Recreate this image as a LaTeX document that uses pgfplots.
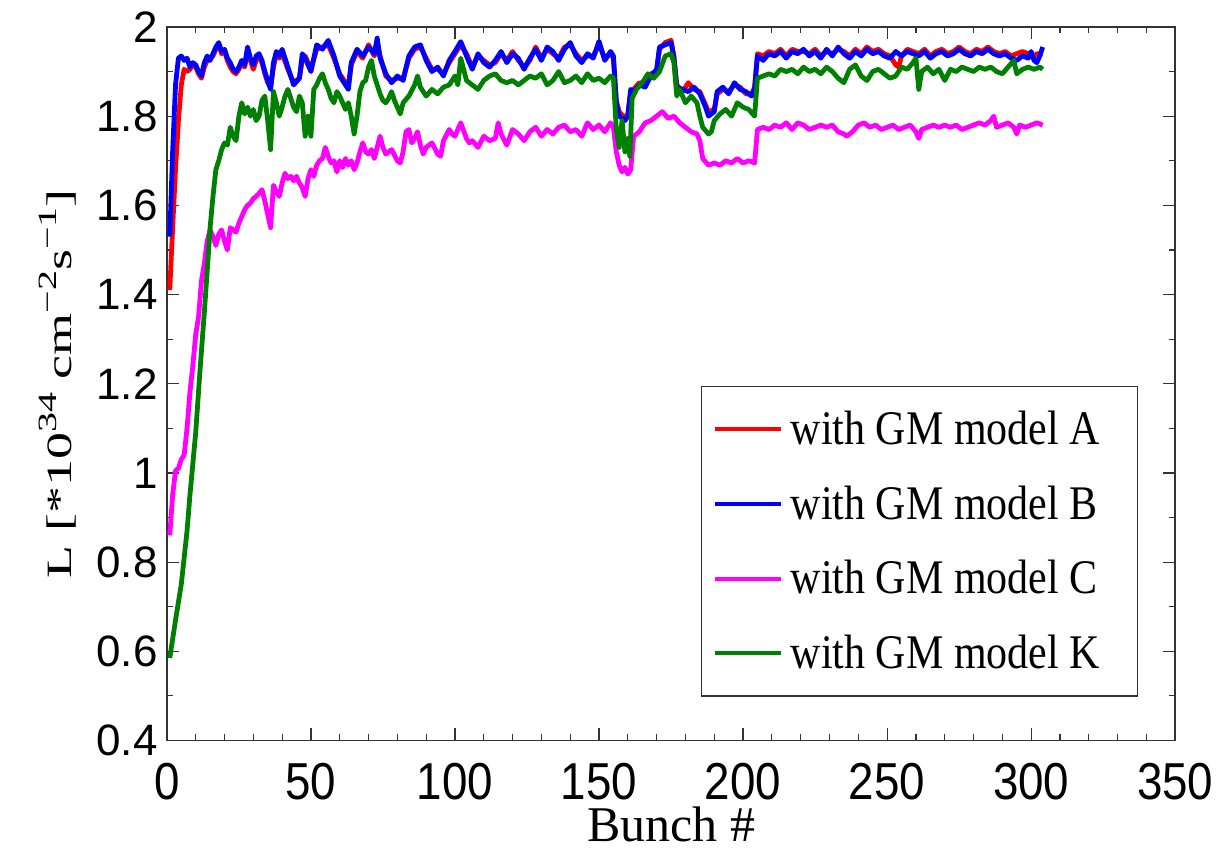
\documentclass[border=0pt]{standalone}
\usepackage{pgfplots}
\usepackage{pgfplotstable}
\pgfplotsset{compat=1.18}
\usepackage{fontspec}
\setmainfont{Liberation Serif}
\newfontfamily\arial{Liberation Sans}
\definecolor{mred}{RGB}{255,0,0}
\definecolor{mblue}{RGB}{0,0,255}
\definecolor{mmag}{RGB}{255,0,255}
\definecolor{mgreen}{RGB}{0,128,0}
\newcommand{\mysup}[1]{\raisebox{0.42em}{\fontsize{20}{22}\selectfont #1}}

\pgfplotstableread[row sep=\\]{
x y\\
1 1.41\\ 2 1.55\\ 3 1.68\\ 4 1.79\\ 5 1.87\\ 6 1.905\\ 7 1.90\\ 8 1.905\\ 9 1.915\\ 10 1.91\\
11 1.895\\ 12 1.885\\ 13 1.91\\ 14 1.925\\ 15 1.93\\ 16 1.935\\ 17 1.95\\ 18 1.96\\ 19 1.94\\ 20 1.945\\
21 1.925\\ 22 1.91\\ 23 1.90\\ 24 1.895\\ 25 1.905\\ 26 1.92\\ 27 1.91\\ 28 1.945\\ 29 1.925\\ 30 1.905\\
31 1.925\\ 32 1.935\\ 33 1.92\\ 34 1.895\\ 35 1.875\\ 36 1.865\\ 37 1.91\\ 38 1.94\\ 39 1.93\\ 40 1.94\\
42 1.905\\ 44 1.875\\ 46 1.885\\ 47 1.925\\ 48 1.935\\ 50 1.905\\ 52 1.95\\ 54 1.955\\ 56 1.96\\ 58 1.93\\
60 1.895\\ 62 1.875\\ 63 1.87\\ 64 1.915\\ 66 1.945\\ 68 1.93\\ 70 1.96\\ 72 1.935\\ 73 1.965\\ 74 1.935\\
76 1.89\\ 78 1.88\\ 80 1.885\\ 82 1.885\\ 84 1.93\\ 86 1.95\\ 88 1.955\\ 90 1.93\\ 92 1.905\\ 94 1.905\\
96 1.895\\ 98 1.92\\ 100 1.94\\ 102 1.96\\ 104 1.94\\ 106 1.91\\ 108 1.935\\ 110 1.925\\ 112 1.915\\ 114 1.92\\
116 1.94\\ 118 1.925\\ 120 1.945\\ 122 1.925\\ 124 1.91\\ 126 1.925\\ 128 1.955\\ 130 1.93\\ 132 1.95\\ 134 1.94\\
136 1.93\\ 138 1.955\\ 140 1.96\\ 142 1.94\\ 144 1.925\\ 146 1.935\\ 148 1.935\\ 150 1.96\\ 152 1.93\\ 154 1.94\\
155 1.93\\ 156 1.835\\ 157 1.81\\ 159 1.795\\ 160 1.805\\ 161 1.855\\ 162 1.86\\ 164 1.875\\ 166 1.87\\ 168 1.895\\
170 1.90\\ 171 1.95\\ 173 1.965\\ 175 1.97\\ 176 1.935\\ 177 1.87\\ 179 1.855\\ 181 1.875\\ 183 1.86\\ 185 1.855\\
187 1.825\\ 188 1.81\\ 190 1.815\\ 191 1.85\\ 193 1.86\\ 195 1.855\\ 197 1.87\\ 199 1.865\\ 201 1.85\\ 203 1.85\\
204 1.865\\ 205 1.94\\ 207 1.935\\ 209 1.945\\ 211 1.94\\ 213 1.95\\ 215 1.935\\ 217 1.95\\ 219 1.945\\ 221 1.945\\
223 1.94\\ 225 1.95\\ 227 1.935\\ 229 1.945\\ 231 1.94\\ 233 1.95\\ 235 1.945\\ 237 1.935\\ 239 1.95\\ 241 1.94\\
243 1.955\\ 245 1.945\\ 247 1.95\\ 249 1.94\\ 251 1.935\\ 253 1.915\\ 254 1.91\\ 255 1.935\\ 257 1.95\\ 259 1.945\\
261 1.94\\ 263 1.95\\ 265 1.935\\ 267 1.945\\ 269 1.95\\ 271 1.94\\ 273 1.945\\ 275 1.955\\ 277 1.945\\ 279 1.94\\
281 1.95\\ 283 1.945\\ 285 1.955\\ 287 1.945\\ 289 1.94\\ 291 1.945\\ 293 1.935\\ 295 1.94\\ 297 1.945\\ 299 1.94\\
301 1.935\\ 302 1.94\\ 304 1.94\\
}\tA

\pgfplotstableread[row sep=\\]{
x y\\
1 1.53\\ 2 1.72\\ 3 1.87\\ 4 1.93\\ 5 1.935\\ 6 1.925\\ 7 1.93\\ 8 1.91\\ 9 1.92\\ 10 1.915\\
11 1.90\\ 12 1.89\\ 13 1.92\\ 14 1.935\\ 15 1.925\\ 16 1.94\\ 17 1.955\\ 18 1.965\\ 19 1.945\\ 20 1.95\\
21 1.93\\ 22 1.92\\ 23 1.905\\ 24 1.90\\ 25 1.91\\ 26 1.925\\ 27 1.915\\ 28 1.955\\ 29 1.93\\ 30 1.915\\
31 1.935\\ 32 1.94\\ 33 1.925\\ 34 1.90\\ 35 1.88\\ 36 1.86\\ 37 1.92\\ 38 1.945\\ 39 1.935\\ 40 1.95\\
42 1.91\\ 44 1.87\\ 46 1.885\\ 47 1.94\\ 48 1.93\\ 50 1.90\\ 52 1.96\\ 54 1.95\\ 56 1.97\\ 58 1.935\\
60 1.89\\ 62 1.87\\ 63 1.86\\ 64 1.92\\ 66 1.95\\ 68 1.935\\ 70 1.955\\ 72 1.94\\ 73 1.975\\ 74 1.93\\
76 1.895\\ 78 1.875\\ 80 1.89\\ 82 1.88\\ 84 1.935\\ 86 1.955\\ 88 1.96\\ 90 1.925\\ 92 1.90\\ 94 1.91\\
96 1.89\\ 98 1.925\\ 100 1.945\\ 102 1.967\\ 104 1.935\\ 106 1.905\\ 108 1.94\\ 110 1.92\\ 112 1.91\\ 114 1.925\\
116 1.945\\ 118 1.92\\ 120 1.94\\ 122 1.93\\ 124 1.905\\ 126 1.93\\ 128 1.95\\ 130 1.925\\ 132 1.955\\ 134 1.945\\
136 1.925\\ 138 1.95\\ 140 1.965\\ 142 1.935\\ 144 1.92\\ 146 1.94\\ 148 1.93\\ 150 1.968\\ 152 1.925\\ 154 1.945\\
155 1.935\\ 156 1.83\\ 157 1.80\\ 159 1.79\\ 160 1.80\\ 161 1.86\\ 162 1.855\\ 164 1.87\\ 166 1.865\\ 168 1.89\\
170 1.905\\ 171 1.955\\ 173 1.96\\ 175 1.965\\ 176 1.93\\ 177 1.865\\ 179 1.86\\ 181 1.855\\ 183 1.865\\ 185 1.85\\
187 1.82\\ 188 1.80\\ 190 1.81\\ 191 1.855\\ 193 1.865\\ 195 1.85\\ 197 1.875\\ 199 1.86\\ 201 1.855\\ 203 1.845\\
204 1.86\\ 205 1.935\\ 207 1.925\\ 209 1.94\\ 211 1.935\\ 213 1.945\\ 215 1.93\\ 217 1.945\\ 219 1.94\\ 221 1.95\\
223 1.935\\ 225 1.945\\ 227 1.93\\ 229 1.95\\ 231 1.935\\ 233 1.955\\ 235 1.94\\ 237 1.93\\ 239 1.945\\ 241 1.935\\
243 1.95\\ 245 1.94\\ 247 1.945\\ 249 1.935\\ 251 1.93\\ 253 1.945\\ 255 1.935\\ 257 1.945\\ 259 1.94\\ 261 1.935\\
263 1.945\\ 265 1.93\\ 267 1.94\\ 269 1.945\\ 271 1.935\\ 273 1.94\\ 275 1.95\\ 277 1.94\\ 279 1.935\\ 281 1.945\\
283 1.94\\ 285 1.95\\ 287 1.94\\ 289 1.935\\ 291 1.94\\ 293 1.93\\ 295 1.925\\ 297 1.935\\ 299 1.93\\ 300 1.945\\
301 1.925\\ 302 1.92\\ 303 1.935\\ 304 1.955\\
}\tB

\pgfplotstableread[row sep=\\]{
x y\\
1 0.86\\ 2 0.95\\ 3 1.005\\ 4 1.01\\ 5 1.03\\ 6 1.04\\ 7 1.10\\ 8 1.18\\ 9 1.24\\ 10 1.31\\
11 1.35\\ 12 1.43\\ 13 1.47\\ 14 1.52\\ 15 1.545\\ 16 1.53\\ 17 1.51\\ 18 1.535\\ 19 1.545\\ 20 1.52\\
21 1.50\\ 22 1.55\\ 23 1.545\\ 24 1.54\\ 25 1.56\\ 26 1.575\\ 27 1.59\\ 28 1.60\\ 29 1.605\\ 30 1.615\\
31 1.62\\ 32 1.627\\ 33 1.635\\ 34 1.61\\ 35 1.58\\ 36 1.55\\ 37 1.645\\ 38 1.63\\ 39 1.62\\ 40 1.65\\
41 1.672\\ 42 1.66\\ 43 1.665\\ 44 1.655\\ 45 1.665\\ 46 1.65\\ 47 1.64\\ 48 1.62\\ 49 1.66\\ 50 1.68\\
51 1.665\\ 52 1.69\\ 53 1.70\\ 54 1.705\\ 55 1.73\\ 56 1.71\\ 57 1.695\\ 58 1.70\\ 59 1.675\\ 60 1.70\\
61 1.685\\ 62 1.705\\ 63 1.69\\ 64 1.70\\ 65 1.68\\ 66 1.695\\ 67 1.72\\ 68 1.74\\ 69 1.72\\ 70 1.715\\
71 1.725\\ 72 1.705\\ 73 1.73\\ 74 1.755\\ 75 1.73\\ 76 1.715\\ 78 1.725\\ 80 1.70\\ 81 1.695\\ 82 1.72\\
83 1.765\\ 84 1.77\\ 85 1.74\\ 86 1.75\\ 87 1.765\\ 88 1.735\\ 89 1.715\\ 90 1.73\\ 92 1.74\\ 94 1.715\\
95 1.71\\ 96 1.745\\ 98 1.77\\ 99 1.76\\ 100 1.755\\ 102 1.785\\ 104 1.75\\ 105 1.74\\ 106 1.745\\ 108 1.73\\
110 1.755\\ 112 1.745\\ 114 1.75\\ 115 1.785\\ 116 1.76\\ 118 1.735\\ 120 1.77\\ 122 1.76\\ 124 1.745\\ 126 1.765\\
128 1.775\\ 130 1.755\\ 132 1.77\\ 134 1.76\\ 136 1.775\\ 138 1.78\\ 140 1.765\\ 142 1.77\\ 144 1.755\\ 146 1.785\\
148 1.77\\ 150 1.78\\ 152 1.765\\ 154 1.785\\ 155 1.775\\ 156 1.72\\ 157 1.69\\ 158 1.675\\ 159 1.685\\ 160 1.67\\
161 1.68\\ 162 1.755\\ 164 1.765\\ 166 1.785\\ 168 1.79\\ 170 1.80\\ 172 1.81\\ 174 1.795\\ 176 1.80\\ 178 1.785\\
180 1.775\\ 182 1.765\\ 184 1.76\\ 185 1.745\\ 186 1.705\\ 188 1.69\\ 190 1.695\\ 192 1.69\\ 194 1.70\\ 196 1.695\\
198 1.705\\ 200 1.695\\ 202 1.70\\ 204 1.695\\ 205 1.77\\ 207 1.775\\ 209 1.77\\ 211 1.78\\ 213 1.775\\ 215 1.785\\
217 1.77\\ 219 1.785\\ 221 1.78\\ 223 1.77\\ 225 1.775\\ 227 1.78\\ 229 1.775\\ 231 1.78\\ 233 1.765\\ 235 1.76\\
236 1.755\\ 238 1.765\\ 240 1.78\\ 242 1.785\\ 244 1.775\\ 246 1.78\\ 248 1.77\\ 250 1.775\\ 252 1.78\\ 254 1.77\\
256 1.775\\ 258 1.78\\ 260 1.765\\ 261 1.75\\ 262 1.77\\ 264 1.775\\ 266 1.78\\ 268 1.775\\ 270 1.78\\ 272 1.775\\
274 1.78\\ 276 1.77\\ 278 1.775\\ 280 1.78\\ 282 1.785\\ 284 1.78\\ 286 1.79\\ 287 1.80\\ 288 1.775\\ 290 1.78\\
292 1.785\\ 294 1.775\\ 295 1.76\\ 296 1.78\\ 298 1.775\\ 300 1.78\\ 302 1.785\\ 304 1.78\\
}\tC

\pgfplotstableread[row sep=\\]{
x y\\
1 0.585\\ 3 0.67\\ 5 0.75\\ 7 0.87\\ 8 0.95\\ 10 1.09\\ 11.5 1.23\\ 13 1.36\\ 14.5 1.50\\ 15 1.55\\
16 1.62\\ 17 1.68\\ 18 1.70\\ 19 1.725\\ 20 1.74\\ 21 1.735\\ 22 1.775\\ 23 1.755\\ 24 1.745\\ 25 1.80\\
26 1.83\\ 27 1.805\\ 28 1.82\\ 29 1.80\\ 30 1.815\\ 31 1.79\\ 32 1.80\\ 33 1.835\\ 34 1.845\\ 35 1.79\\
36 1.725\\ 37 1.855\\ 38 1.83\\ 39 1.80\\ 40 1.82\\ 41 1.845\\ 42 1.86\\ 43 1.84\\ 44 1.82\\ 45 1.81\\
46 1.845\\ 47 1.83\\ 48 1.755\\ 49 1.80\\ 50 1.755\\ 51 1.86\\ 52 1.87\\ 53 1.885\\ 54 1.895\\ 55 1.875\\
56 1.86\\ 57 1.84\\ 58 1.83\\ 59 1.855\\ 60 1.845\\ 61 1.83\\ 62 1.815\\ 63 1.83\\ 64 1.80\\ 65 1.76\\
66 1.80\\ 67 1.855\\ 68 1.875\\ 69 1.88\\ 70 1.91\\ 71 1.925\\ 72 1.89\\ 73 1.87\\ 74 1.85\\ 75 1.835\\
76 1.83\\ 77 1.84\\ 78 1.855\\ 79 1.835\\ 80 1.82\\ 81 1.805\\ 82 1.83\\ 84 1.845\\ 86 1.87\\ 87 1.89\\
88 1.865\\ 90 1.845\\ 92 1.86\\ 94 1.85\\ 96 1.865\\ 98 1.87\\ 100 1.89\\ 101 1.87\\ 102 1.93\\ 103 1.905\\
104 1.88\\ 106 1.87\\ 108 1.86\\ 110 1.88\\ 112 1.89\\ 114 1.895\\ 116 1.88\\ 118 1.875\\ 120 1.88\\ 122 1.87\\
124 1.88\\ 126 1.89\\ 128 1.885\\ 130 1.895\\ 132 1.87\\ 134 1.88\\ 136 1.90\\ 138 1.875\\ 140 1.88\\ 142 1.89\\
144 1.875\\ 146 1.895\\ 148 1.88\\ 150 1.885\\ 152 1.875\\ 154 1.89\\ 155 1.885\\ 156 1.77\\ 157 1.73\\ 158 1.79\\
159 1.72\\ 160 1.75\\ 160.7 1.71\\ 161.5 1.84\\ 163 1.86\\ 165 1.875\\ 167 1.895\\ 169 1.885\\ 171 1.90\\ 173 1.935\\
175 1.94\\ 176 1.92\\ 177 1.845\\ 178 1.86\\ 180 1.83\\ 182 1.845\\ 184 1.83\\ 185 1.80\\ 186 1.775\\ 188 1.76\\
189 1.765\\ 190 1.79\\ 192 1.805\\ 194 1.815\\ 196 1.80\\ 198 1.83\\ 200 1.82\\ 202 1.815\\ 204 1.80\\ 205 1.885\\
207 1.89\\ 209 1.895\\ 211 1.89\\ 213 1.905\\ 215 1.90\\ 217 1.905\\ 219 1.895\\ 221 1.91\\ 223 1.90\\ 225 1.905\\
227 1.895\\ 229 1.91\\ 231 1.90\\ 233 1.885\\ 235 1.875\\ 237 1.905\\ 239 1.915\\ 241 1.89\\ 243 1.88\\ 245 1.90\\
247 1.905\\ 249 1.895\\ 251 1.885\\ 253 1.89\\ 255 1.91\\ 257 1.905\\ 259 1.92\\ 260 1.93\\ 261 1.86\\ 262 1.90\\
264 1.91\\ 266 1.895\\ 268 1.905\\ 270 1.88\\ 272 1.905\\ 274 1.90\\ 276 1.91\\ 278 1.905\\ 280 1.90\\ 282 1.91\\
284 1.905\\ 286 1.91\\ 288 1.90\\ 290 1.895\\ 292 1.91\\ 294 1.925\\ 295 1.895\\ 297 1.905\\ 299 1.91\\ 301 1.905\\
303 1.91\\ 304 1.905\\
}\tK

\begin{document}
\begin{tikzpicture}
\begin{axis}[
  scale only axis, width=504.5pt, height=357pt,
  xmin=0, xmax=350, ymin=0.4, ymax=2,
  xtick={0,50,100,150,200,250,300,350},
  ytick={0.4,0.6,0.8,1,1.2,1.4,1.6,1.8,2},
  minor x tick num=4, minor y tick num=1,
  major tick length=6pt, minor tick length=3pt,
  tick style={black!80, line width=0.6pt},
  axis line style={black!80, line width=0.8pt},
  /pgf/number format/assume math mode=true,
  yticklabel style={font=\arial\fontsize{22}{26}\selectfont, inner xsep=4.5pt,
    /pgf/number format/fixed, /pgf/number format/precision=1},
  xticklabel style={font=\arial\fontsize{26}{30}\selectfont, anchor=center, yshift=-20.5pt},
  xticklabel={\scalebox{0.88}[1]{\pgfmathprintnumber{\tick}}},
  xlabel={Bunch \#},
  xlabel style={font=\fontsize{25}{28}\selectfont, at={(axis description cs:0.5,-0.118)}, anchor=center},
  ylabel={\scalebox{1}[0.66]{L [*10\mysup{34} cm\mysup{−2}s\mysup{−1}]}},
  ylabel style={font=\fontsize{27}{30}\selectfont, at={(axis description cs:-0.108,0.5)}, anchor=center},
  legend style={at={(axis description cs:0.530,0.497)}, anchor=north west,
    draw=black!80, line width=0.6pt, inner xsep=5.5pt, inner ysep=2.85pt,
    row sep=0pt, column sep=4pt,
    font=\fontsize{21}{25}\selectfont,
    nodes={inner sep=0pt, minimum height=37.3pt}},
  legend image code/.code={\draw[#1, line width=2pt] (0pt,0pt) -- (33pt,0pt);},
  every axis plot/.append style={line width=2.4pt, line join=round},
]
\addplot[mred] table[x=x,y=y] {\tA};
\addplot[mblue] table[x=x,y=y] {\tB};
\addplot[mmag] table[x=x,y=y] {\tC};
\addplot[mgreen] table[x=x,y=y] {\tK};
\legend{\makebox[168pt][l]{\scalebox{1}[1.15]{with GM model A}},
        \makebox[168pt][l]{\scalebox{1}[1.15]{with GM model B}},
        \makebox[168pt][l]{\scalebox{1}[1.15]{with GM model C}},
        \makebox[168pt][l]{\scalebox{1}[1.15]{with GM model K}}}
\end{axis}
\path (-83.5pt,-56.5pt) rectangle (526.5pt,370.5pt);
\end{tikzpicture}
\end{document}
